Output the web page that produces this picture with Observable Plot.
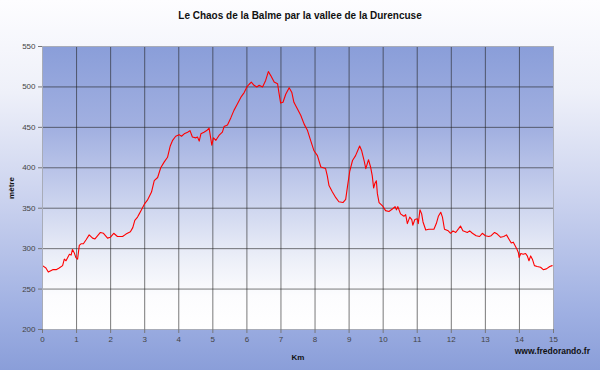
<!DOCTYPE html>
<html>
<head>
<meta charset="utf-8">
<script src="https://cdn.jsdelivr.net/npm/d3@7"></script>
<script src="https://cdn.jsdelivr.net/npm/@observablehq/plot@0.6"></script>
<style>
  html, body { margin: 0; padding: 0; }
  #wrap {
    position: relative; width: 600px; height: 370px; overflow: hidden;
    background: linear-gradient(to bottom, #fdfdff 0%, #eef0f9 25%, #c9d1ee 55%, #9eafe2 85%, #8a9ed9 100%);
    font-family: "Liberation Sans", Arial, sans-serif;
  }
  #title {
    position: absolute; left: 0; top: 10px; width: 600px; text-align: center;
    font-size: 10px; font-weight: bold; color: #111; line-height: 12px;
  }
  #chart { position: absolute; left: 0; top: 30px; }
  #caption {
    position: absolute; right: 10px; top: 346px;
    font-size: 8.5px; font-weight: bold; color: #111;
  }
  #chart svg [aria-label="x-axis label"] text,
  #chart svg [aria-label="y-axis label"] text { font-weight: bold; fill: #111; }
</style>
</head>
<body>
<div id="wrap">
  <div id="title">Le Chaos de la Balme par la vallee de la Durencuse</div>
  <div id="chart"></div>
  <div id="caption">www.fredorando.fr</div>
</div>
<script>
const km = [0, 0.1, 0.17, 0.3, 0.4, 0.49, 0.59, 0.64, 0.69, 0.74, 0.79, 0.84, 0.88, 0.93, 0.98,
  1.03, 1.08, 1.13, 1.2, 1.28, 1.37, 1.47, 1.54, 1.62, 1.7, 1.79, 1.91, 1.99,
  2.09, 2.2, 2.35, 2.45, 2.58, 2.65, 2.71, 2.79, 2.84, 2.89, 2.99,
  3.08, 3.2, 3.28, 3.38, 3.47, 3.57, 3.67, 3.75, 3.82, 3.91,
  4.01, 4.08, 4.16, 4.26, 4.33, 4.4, 4.5, 4.55, 4.6, 4.65, 4.74, 4.82, 4.89, 4.94, 4.97,
  5.02, 5.09, 5.18, 5.28, 5.33, 5.43, 5.53, 5.62, 5.72, 5.82, 5.92,
  6.0, 6.06, 6.13, 6.21, 6.29, 6.36, 6.46, 6.55, 6.63, 6.7, 6.8, 6.9, 6.94, 6.99,
  7.06, 7.14, 7.24, 7.32, 7.38, 7.48, 7.58, 7.68, 7.78, 7.87, 7.97,
  8.07, 8.17, 8.31, 8.36, 8.41, 8.51, 8.61, 8.7, 8.82, 8.9, 8.95,
  9.02, 9.1, 9.19, 9.26, 9.31, 9.37, 9.44, 9.49, 9.57, 9.63, 9.68, 9.72, 9.76, 9.8, 9.83, 9.88, 9.98,
  10.07, 10.17, 10.27, 10.35, 10.39, 10.43, 10.51, 10.61, 10.66, 10.71, 10.78, 10.84, 10.87, 10.93,
  11.0, 11.03, 11.08, 11.13, 11.17, 11.25, 11.34, 11.49, 11.56, 11.62, 11.69, 11.74, 11.8, 11.91, 11.98,
  12.05, 12.13, 12.22, 12.27, 12.34, 12.47, 12.54, 12.62, 12.73, 12.83, 12.91,
  13.0, 13.1, 13.17, 13.27, 13.35, 13.45, 13.54, 13.62, 13.69, 13.76, 13.82, 13.87, 13.92, 13.97, 13.99,
  14.04, 14.11, 14.18, 14.23, 14.28, 14.33, 14.38, 14.44, 14.52, 14.62, 14.7, 14.79, 14.89, 14.96];

const altitude = [279, 276, 271, 274, 274, 276, 279, 287, 285, 289, 293, 292, 299, 295, 289,
  287, 304, 306, 306, 311, 317, 313, 312, 316, 320, 319, 313, 314,
  319, 315, 315, 318, 321, 326, 335, 339, 343, 347, 355,
  360, 370, 384, 388, 400, 407, 413, 427, 434, 439,
  441, 439, 442, 444, 446, 438, 437, 438, 433, 442, 444, 446, 449, 436, 428,
  437, 434, 440, 444, 451, 453, 462, 471, 479, 487, 493,
  500, 503, 506, 502, 500, 502, 500, 508, 519, 514, 506, 504, 493, 480,
  481, 491, 499, 493, 481, 473, 465, 454, 446, 434, 421,
  415, 401, 399, 390, 378, 370, 363, 358, 357, 361, 376,
  396, 409, 415, 422, 427, 421, 409, 399, 410, 401, 390, 375, 381, 384, 368, 357, 353,
  347, 346, 349, 352, 348, 352, 343, 340, 342, 331, 339, 336, 329, 336,
  337, 331, 348, 343, 333, 323, 324, 324, 331, 340, 345, 339, 324, 322, 319,
  322, 320, 325, 328, 322, 320, 322, 319, 316, 315, 319,
  316, 315, 316, 320, 318, 314, 315, 317, 312, 307, 308, 304, 300, 295, 289,
  294, 293, 294, 291, 285, 291, 287, 279, 278, 277, 274, 275, 278, 279];

const xTicks = d3.range(0, 16, 1);
const yTicks = d3.range(200, 551, 50);

const data = km.map((k, i) => ({km: k, alt: altitude[i]}));

const chart = Plot.plot({
  width: 600,
  height: 340,
  marginTop: 16,
  marginBottom: 41,
  marginLeft: 42,
  marginRight: 47,
  style: {background: "transparent", fontFamily: "Liberation Sans, Arial, sans-serif", fontSize: "8px", color: "#444", overflow: "visible"},
  x: {domain: [0, 15]},
  y: {domain: [200, 550]},
  marks: [
    Plot.frame({fill: "url(#plotbg)", stroke: "none"}),
    Plot.gridY(yTicks, {stroke: "#222", strokeOpacity: 0.6, strokeWidth: 1}),
    Plot.gridX(xTicks, {stroke: "#222", strokeOpacity: 0.6, strokeWidth: 1}),
    Plot.line(data, {x: "km", y: "alt", stroke: "#ff0000", strokeWidth: 1.1}),
    Plot.frame({stroke: "#a8acb8"}),
    Plot.axisX(xTicks, {tickSize: 4, tickPadding: 3, stroke: "#777", fill: "#444", fontSize: 8,
      label: "Km", labelAnchor: "center", labelArrow: "none", labelOffset: 30, tickFormat: d => d}),
    Plot.axisY(yTicks, {tickSize: 4, tickPadding: 3, stroke: "#777", fill: "#444", fontSize: 8,
      label: "mètre", labelAnchor: "center", labelArrow: "none", labelOffset: 34, tickFormat: d => d})
  ]
});

const defs = d3.select(chart).insert("defs", ":first-child");
const g = defs.append("linearGradient").attr("id", "plotbg")
  .attr("x1", 0).attr("y1", 0).attr("x2", 0).attr("y2", 1);
[["0%", "#8a9ed9"], ["30%", "#a3b1e1"], ["55%", "#cbd3ee"], ["75%", "#eceff8"], ["88%", "#fcfcfe"], ["100%", "#ffffff"]]
  .forEach(([o, c]) => g.append("stop").attr("offset", o).attr("stop-color", c));

document.getElementById("chart").appendChild(chart);
</script>
</body>
</html>
